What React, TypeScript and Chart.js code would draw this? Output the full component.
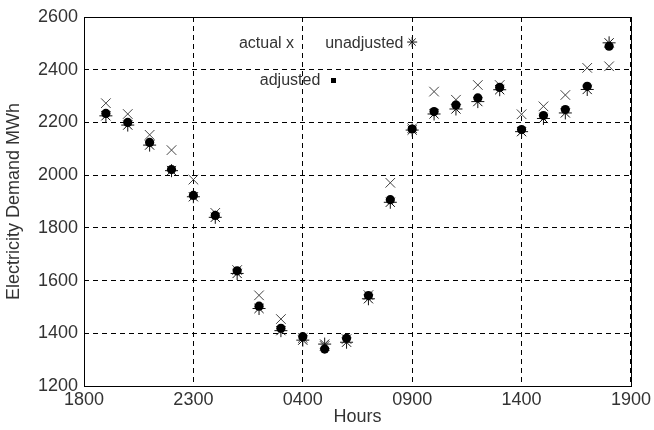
import React, { useEffect, useRef } from 'react';
import { Chart, registerables } from 'chart.js';

Chart.register(...registerables);

// Hour index: 0 = 1800, 25 = 1900 next day
const hourIndex = [1, 2, 3, 4, 5, 6, 7, 8, 9, 10, 11, 12, 13, 14, 15, 16, 17, 18, 19, 20, 21, 22, 23, 24];
const xTickLabels = ['1800', '2300', '0400', '0900', '1400', '1900'];

const actual = [2273, 2232, 2153, 2095, 1983, 1857, 1640, 1544, 1454, 1382, 1352, 1378, 1545, 1971, 2178, 2317, 2286, 2342, 2342, 2231, 2261, 2304, 2407, 2413];
const unadjusted = [2225, 2190, 2114, 2017, 1918, 1840, 1627, 1494, 1410, 1374, 1359, 1366, 1531, 1897, 2171, 2232, 2251, 2279, 2324, 2165, 2215, 2236, 2325, 2502];
const adjusted = [2234, 2200, 2124, 2021, 1923, 1847, 1637, 1503, 1419, 1387, 1340, 1381, 1543, 1907, 2175, 2241, 2266, 2293, 2333, 2173, 2226, 2249, 2337, 2489];

// in-plot text key (data coordinates)
const keyTexts = [
  { text: 'actual x', x: 9.6, y: 2500 },
  { text: 'unadjusted', x: 14.6, y: 2500 },
  { text: 'adjusted', x: 10.8, y: 2360 },
];
const keyStar = { x: 15, y: 2505 };
const keySquare = { x: 11.4, y: 2361 };

const FONT = "'Liberation Sans', Arial, Helvetica, sans-serif";
const TEXT_COLOR = '#333';

const framePlugin = {
  id: 'frameAndKey',
  afterDraw(chart: any) {
    const { ctx, chartArea: a, scales } = chart;
    const xs = scales.x;
    const ys = scales.y;
    ctx.save();
    ctx.setLineDash([]);
    ctx.strokeStyle = '#000';
    ctx.lineWidth = 1;
    const l = Math.round(a.left) + 0.5;
    const t = Math.round(a.top) + 0.5;
    const r = Math.round(a.right) + 0.5;
    const b = Math.round(a.bottom) + 0.5;
    ctx.strokeRect(l, t, r - l, b - t);

    ctx.font = `16px ${FONT}`;
    ctx.fillStyle = TEXT_COLOR;
    ctx.textBaseline = 'middle';
    ctx.textAlign = 'right';
    for (const k of keyTexts) {
      ctx.fillText(k.text, xs.getPixelForValue(k.x), ys.getPixelForValue(k.y));
    }
    // star marker
    const sx = xs.getPixelForValue(keyStar.x);
    const sy = ys.getPixelForValue(keyStar.y);
    const rr = 5;
    ctx.beginPath();
    for (let i = 0; i < 4; i++) {
      const ang = (i * Math.PI) / 4;
      ctx.moveTo(sx - Math.cos(ang) * rr, sy - Math.sin(ang) * rr);
      ctx.lineTo(sx + Math.cos(ang) * rr, sy + Math.sin(ang) * rr);
    }
    ctx.strokeStyle = '#111';
    ctx.stroke();
    // square marker
    const qx = xs.getPixelForValue(keySquare.x);
    const qy = ys.getPixelForValue(keySquare.y);
    ctx.fillStyle = '#000';
    ctx.fillRect(Math.round(qx) - 2, Math.round(qy) - 2, 5, 5);
    ctx.restore();
  },
};

function toPoints(vals: number[]) {
  return hourIndex.map((h, i) => ({ x: h, y: vals[i] }));
}

export default function App() {
  const ref = useRef<HTMLCanvasElement | null>(null);

  useEffect(() => {
    if (!ref.current) return;
    const chart = new Chart(ref.current, {
      type: 'scatter',
      data: {
        datasets: [
          {
            label: 'adjusted',
            data: toPoints(adjusted),
            pointStyle: 'circle',
            pointRadius: 4.6,
            backgroundColor: '#000',
            borderColor: '#000',
            pointBorderWidth: 0,
            order: 0,
          },
          {
            label: 'unadjusted',
            data: toPoints(unadjusted),
            pointStyle: 'star',
            pointRadius: 6.5,
            backgroundColor: '#111',
            borderColor: '#111',
            pointBorderWidth: 1,
            order: 1,
          },
          {
            label: 'actual',
            data: toPoints(actual),
            pointStyle: 'crossRot',
            pointRadius: 6.8,
            backgroundColor: '#444',
            borderColor: '#444',
            pointBorderWidth: 1,
            order: 2,
          },
        ],
      },
      options: {
        animation: false,
        responsive: false,
        devicePixelRatio: 1,
        layout: { padding: { top: 17, right: 23, left: 0, bottom: 0 } },
        plugins: {
          legend: { display: false },
          tooltip: { enabled: false },
        },
        scales: {
          x: {
            type: 'linear',
            min: 0,
            max: 25,
            afterFit: (s: any) => {
              s.height = 44;
            },
            ticks: {
              stepSize: 5,
              autoSkip: false,
              maxRotation: 0,
              padding: 3,
              color: TEXT_COLOR,
              font: { family: FONT, size: 18 },
              callback: (v: any) => xTickLabels[Math.round(Number(v) / 5)] ?? '',
            },
            grid: {
              color: '#000',
              lineWidth: 1,
              drawTicks: false,
            },
            border: { display: false, dash: [5, 4] },
            title: {
              display: true,
              text: 'Hours',
              color: TEXT_COLOR,
              font: { family: FONT, size: 18 },
              padding: { top: 0, bottom: 2 },
            },
          },
          y: {
            type: 'linear',
            min: 1200,
            max: 2600,
            afterFit: (s: any) => {
              s.width = 84;
            },
            ticks: {
              stepSize: 200,
              padding: 6,
              color: TEXT_COLOR,
              font: { family: FONT, size: 18 },
              callback: (v: any) => String(v),
            },
            grid: {
              color: '#000',
              lineWidth: 1,
              drawTicks: false,
            },
            border: { display: false, dash: [5, 4] },
            title: {
              display: true,
              text: 'Electricity Demand MWh',
              color: TEXT_COLOR,
              font: { family: FONT, size: 18 },
              padding: { top: 3, bottom: 0 },
            },
          },
        },
      },
      plugins: [framePlugin],
    } as any);
    return () => chart.destroy();
  }, []);

  return (
    <div style={{ position: 'fixed', left: 0, top: 0, width: 654, height: 430, background: '#fff' }}>
      <canvas ref={ref} width={654} height={430} style={{ display: 'block' }} />
    </div>
  );
}
